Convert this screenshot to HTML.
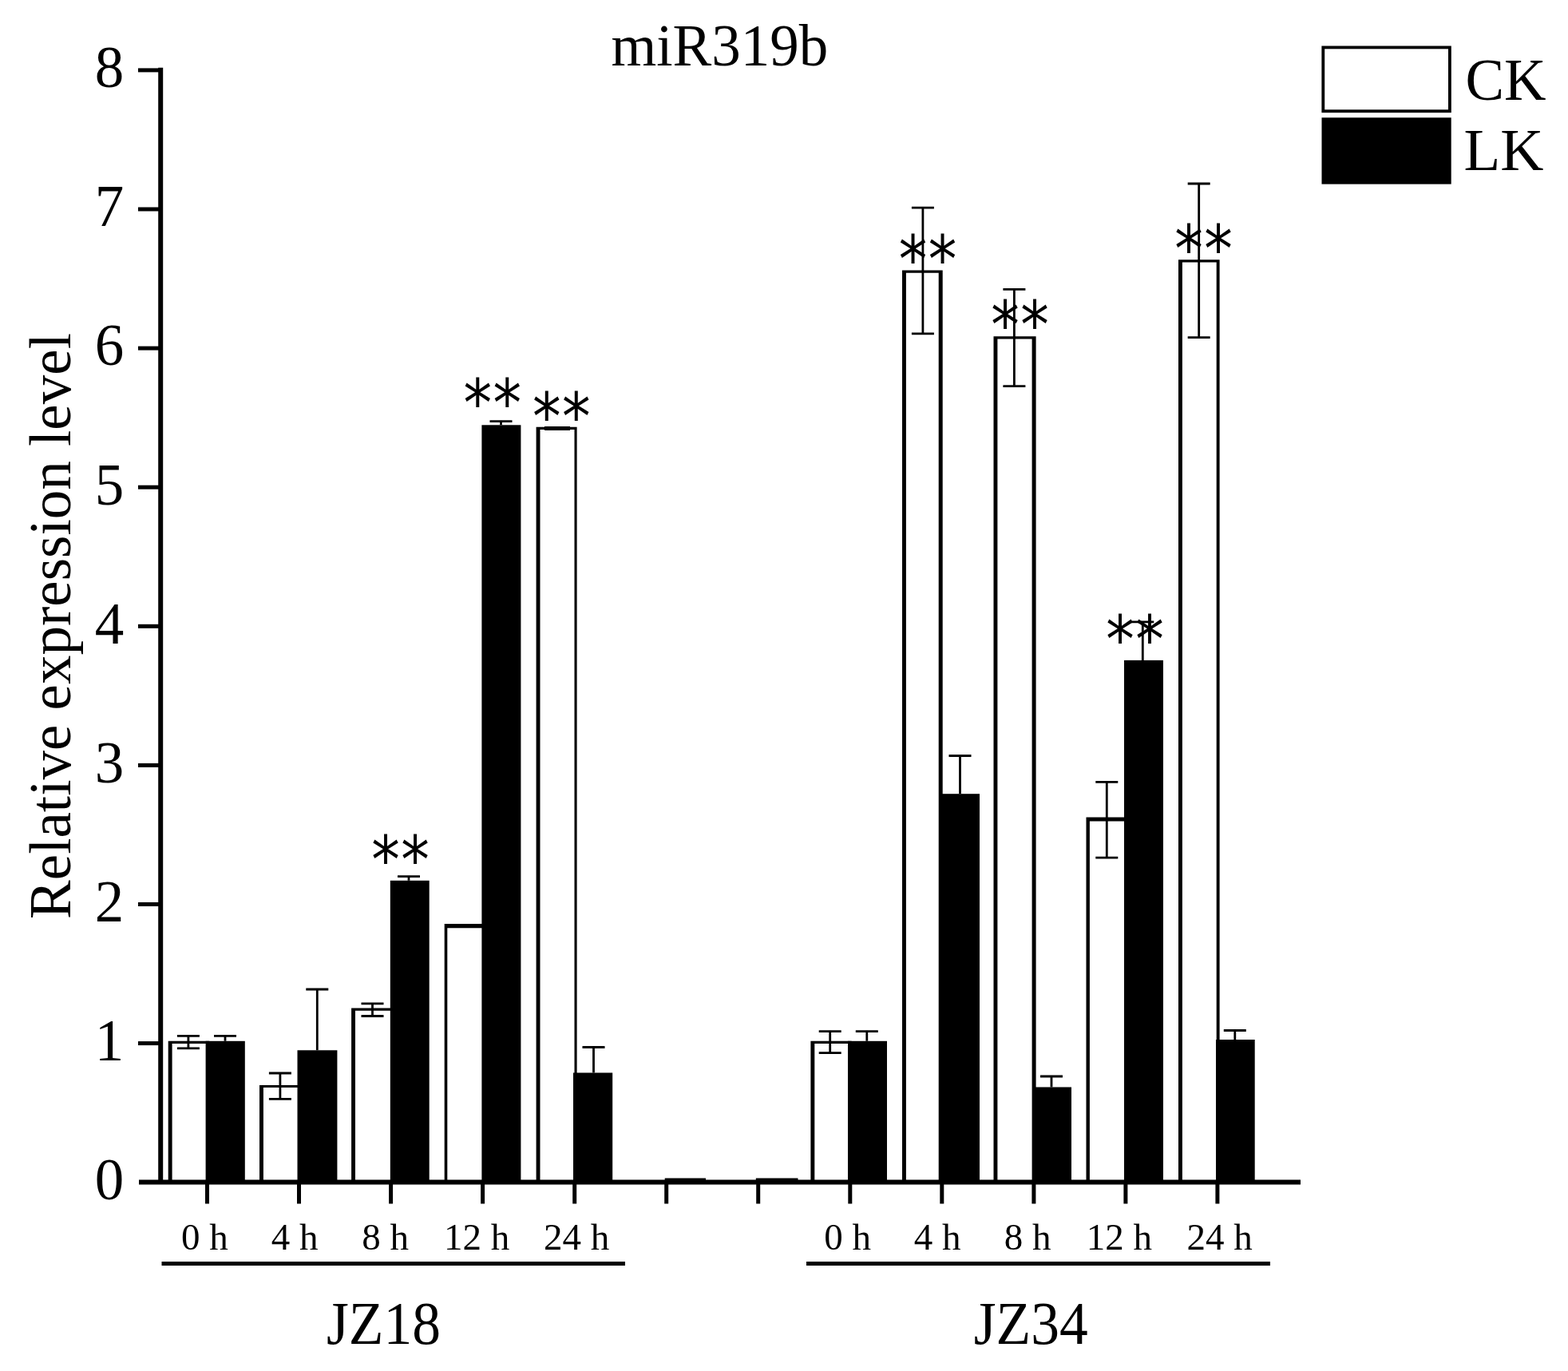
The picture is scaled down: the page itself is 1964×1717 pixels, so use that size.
<!DOCTYPE html>
<html lang="en"><head><meta charset="utf-8"><title>miR319b relative expression level</title>
<style>
html,body{margin:0;padding:0;background:#fff;}
body{width:1964px;height:1717px;overflow:hidden;font-family:"Liberation Serif", "DejaVu Serif", serif;}
svg{display:block;}
</style></head>
<body>
<svg width="1964" height="1717" viewBox="0 0 1964 1717" font-family='"Liberation Serif", "DejaVu Serif", serif' fill="#000">
<rect width="1964" height="1717" fill="#fff"/>
<g id="bars">
<rect x="210.70" y="1303.80" width="51.50" height="177.20" fill="#fff"/>
<path d="M210.70 1481V1303.80H262.20V1481H258.60V1307.00H215.60V1481Z" fill="#000"/>
<rect x="257.60" y="1303.80" width="49.20" height="177.20" fill="#000"/>
<rect x="325.00" y="1358.90" width="52.10" height="122.10" fill="#fff"/>
<path d="M325.00 1481V1358.90H377.10V1481H373.50V1362.10H329.90V1481Z" fill="#000"/>
<rect x="372.50" y="1315.30" width="49.90" height="165.70" fill="#000"/>
<rect x="440.10" y="1262.50" width="53.30" height="218.50" fill="#fff"/>
<path d="M440.10 1481V1262.50H493.40V1481H489.80V1265.70H445.00V1481Z" fill="#000"/>
<rect x="488.80" y="1102.80" width="48.90" height="378.20" fill="#000"/>
<rect x="556.70" y="1157.00" width="51.30" height="324.00" fill="#fff"/>
<path d="M556.70 1481V1157.00H608.00V1481H604.40V1162.20H560.30V1481Z" fill="#000"/>
<rect x="603.40" y="532.30" width="49.00" height="948.70" fill="#000"/>
<rect x="671.60" y="534.80" width="51.00" height="946.20" fill="#fff"/>
<path d="M671.60 1481V534.80H722.60V1481H719.50V538.00H676.50V1481Z" fill="#000"/>
<rect x="718.00" y="1343.50" width="49.20" height="137.50" fill="#000"/>
<rect x="1015.40" y="1303.80" width="51.20" height="177.20" fill="#fff"/>
<path d="M1015.40 1481V1303.80H1066.60V1481H1063.00V1307.00H1020.30V1481Z" fill="#000"/>
<rect x="1062.00" y="1303.80" width="49.00" height="177.20" fill="#000"/>
<rect x="1130.00" y="338.60" width="50.70" height="1142.40" fill="#fff"/>
<path d="M1130.00 1481V338.60H1180.70V1481H1175.70V341.80H1134.90V1481Z" fill="#000"/>
<rect x="1176.10" y="994.20" width="50.90" height="486.80" fill="#000"/>
<rect x="1244.50" y="421.20" width="53.10" height="1059.80" fill="#fff"/>
<path d="M1244.50 1481V421.20H1297.60V1481H1292.60V424.40H1249.40V1481Z" fill="#000"/>
<rect x="1293.00" y="1361.50" width="49.00" height="119.50" fill="#000"/>
<rect x="1360.50" y="1023.50" width="52.10" height="457.50" fill="#fff"/>
<path d="M1360.50 1481V1023.50H1412.60V1481H1409.00V1028.50H1364.90V1481Z" fill="#000"/>
<rect x="1408.00" y="826.90" width="49.00" height="654.10" fill="#000"/>
<rect x="1476.00" y="325.20" width="51.60" height="1155.80" fill="#fff"/>
<path d="M1476.00 1481V325.20H1527.60V1481H1523.70V328.40H1480.90V1481Z" fill="#000"/>
<rect x="1523.00" y="1302.00" width="48.70" height="179.00" fill="#000"/>
</g>
<g id="err" stroke="#000" stroke-width="2.8" fill="none">
<path d="M221.9 1297.4H249.9M221.9 1312.8H249.9M235.9 1297.4V1312.8"/>
<path d="M268.0 1297.4H296.0M282.0 1297.4V1303.8"/>
<path d="M336.9 1344.0H364.9M336.9 1376.3H364.9M350.9 1344.0V1376.3"/>
<path d="M383.3 1239.0H411.3M397.3 1239.0V1315.3"/>
<path d="M452.5 1256.9H480.5M452.5 1272.5H480.5M466.5 1256.9V1272.5"/>
<path d="M498.0 1097.6H526.0M512.0 1097.6V1102.8"/>
<path d="M613.5 527.6H641.5M627.5 527.6V532.3"/>
<path d="M729.5 1311.5H757.5M743.5 1311.5V1343.5"/>
<path d="M1025.7 1291.7H1053.7M1025.7 1318.7H1053.7M1039.7 1291.7V1318.7"/>
<path d="M1071.8 1291.7H1099.8M1085.8 1291.7V1303.8"/>
<path d="M1141.9 260.2H1169.9M1141.9 417.9H1169.9M1155.9 260.2V417.9"/>
<path d="M1188.5 946.5H1216.5M1202.5 946.5V994.2"/>
<path d="M1256.4 362.4H1284.4M1256.4 483.7H1284.4M1270.4 362.4V483.7"/>
<path d="M1303.0 1348.0H1331.0M1317.0 1348.0V1361.5"/>
<path d="M1372.3 979.3H1400.3M1372.3 1074.2H1400.3M1386.3 979.3V1074.2"/>
<path d="M1417.3 778.8H1445.3M1431.3 778.8V826.9"/>
<path d="M1487.7 230.0H1515.7M1487.7 422.6H1515.7M1501.7 230.0V422.6"/>
<path d="M1532.8 1290.5H1560.8M1546.8 1290.5V1302.0"/>
<path d="M682 536.5H714" stroke-width="5"/>
</g>
<g id="axes" stroke="#000" fill="none">
<path d="M201.2 84.8V1483" stroke-width="6"/>
<path d="M174 1480.5H1629" stroke-width="6"/>
<path d="M173 1306.6H202" stroke-width="5"/>
<path d="M173 1132.5H202" stroke-width="5"/>
<path d="M173 958.4H202" stroke-width="5"/>
<path d="M173 784.3H202" stroke-width="5"/>
<path d="M173 610.2H202" stroke-width="5"/>
<path d="M173 436.1H202" stroke-width="5"/>
<path d="M173 262.0H202" stroke-width="5"/>
<path d="M173 87.9H202" stroke-width="5"/>
<path d="M259.5 1480V1507.5" stroke-width="5"/>
<path d="M374.5 1480V1507.5" stroke-width="5"/>
<path d="M489.6 1480V1507.5" stroke-width="5"/>
<path d="M604.6 1480V1507.5" stroke-width="5"/>
<path d="M719.7 1480V1507.5" stroke-width="5"/>
<path d="M834.7 1480V1507.5" stroke-width="5"/>
<path d="M949.7 1480V1507.5" stroke-width="5"/>
<path d="M1064.8 1480V1507.5" stroke-width="5"/>
<path d="M1179.8 1480V1507.5" stroke-width="5"/>
<path d="M1294.9 1480V1507.5" stroke-width="5"/>
<path d="M1409.9 1480V1507.5" stroke-width="5"/>
<path d="M1524.9 1480V1507.5" stroke-width="5"/>
<path d="M832.7 1477.6H884M946.8 1477.6H999.5" stroke-width="4"/>
<path d="M202.5 1582.5H783" stroke-width="5"/>
<path d="M1010 1582.5H1591" stroke-width="5"/>
</g>
<g id="ylab" font-size="73" text-anchor="middle">
<text x="137" y="1502.0">0</text>
<text x="137" y="1327.9">1</text>
<text x="137" y="1153.8">2</text>
<text x="137" y="979.7">3</text>
<text x="137" y="805.6">4</text>
<text x="137" y="631.5">5</text>
<text x="137" y="457.4">6</text>
<text x="137" y="283.3">7</text>
<text x="137" y="109.2">8</text>
</g>
<text id="ytitle" font-size="73" text-anchor="middle" transform="translate(87.6 784) rotate(-90)">Relative expression level</text>
<text id="title" font-size="73" text-anchor="middle" x="901.3" y="81.7">miR319b</text>
<g id="xlab" font-size="47" text-anchor="middle">
<text x="256.3" y="1564.6">0 h</text>
<text x="369.2" y="1564.6">4 h</text>
<text x="482.5" y="1564.6">8 h</text>
<text x="597.0" y="1564.6">12 h</text>
<text x="722.0" y="1564.6">24 h</text>
<text x="1061.5" y="1564.6">0 h</text>
<text x="1174.2" y="1564.6">4 h</text>
<text x="1287.0" y="1564.6">8 h</text>
<text x="1401.8" y="1564.6">12 h</text>
<text x="1527.7" y="1564.6">24 h</text>
</g>
<text font-size="76" textLength="143" lengthAdjust="spacingAndGlyphs" text-anchor="middle" x="480.4" y="1682.8">JZ18</text>
<text font-size="76" textLength="143" lengthAdjust="spacingAndGlyphs" text-anchor="middle" x="1291.3" y="1682.8">JZ34</text>
<rect x="1657.3" y="59.4" width="158.6" height="79.8" fill="#fff" stroke="#000" stroke-width="3.8"/>
<rect x="1655.5" y="147.3" width="162.2" height="83.3" fill="#000"/>
<text font-size="75" textLength="101" lengthAdjust="spacingAndGlyphs" x="1835.5" y="125.3">CK</text>
<text font-size="75" x="1833.5" y="212.7">LK</text>
<g id="ast" font-family='"DejaVu Sans", "Liberation Sans", sans-serif' font-size="82" text-anchor="middle">
<text transform="translate(483.1 1105.5) scale(0.8675 1.0002)">*</text>
<text transform="translate(520.0 1105.5) scale(0.8675 1.0002)">*</text>
<text transform="translate(598.4 534.4) scale(0.8675 1.0002)">*</text>
<text transform="translate(635.4 534.4) scale(0.8675 1.0002)">*</text>
<text transform="translate(684.7 550.6) scale(0.8675 1.0002)">*</text>
<text transform="translate(721.7 550.6) scale(0.8675 1.0002)">*</text>
<text transform="translate(1143.5 354.1) scale(0.8675 1.0002)">*</text>
<text transform="translate(1180.5 354.1) scale(0.8675 1.0002)">*</text>
<text transform="translate(1259.0 436.1) scale(0.8675 1.0002)">*</text>
<text transform="translate(1296.0 436.1) scale(0.8675 1.0002)">*</text>
<text transform="translate(1403.0 829.9) scale(0.8675 1.0002)">*</text>
<text transform="translate(1440.0 829.9) scale(0.8675 1.0002)">*</text>
<text transform="translate(1489.0 340.9) scale(0.8675 1.0002)">*</text>
<text transform="translate(1526.0 340.9) scale(0.8675 1.0002)">*</text>
</g>
</svg>
</body></html>
